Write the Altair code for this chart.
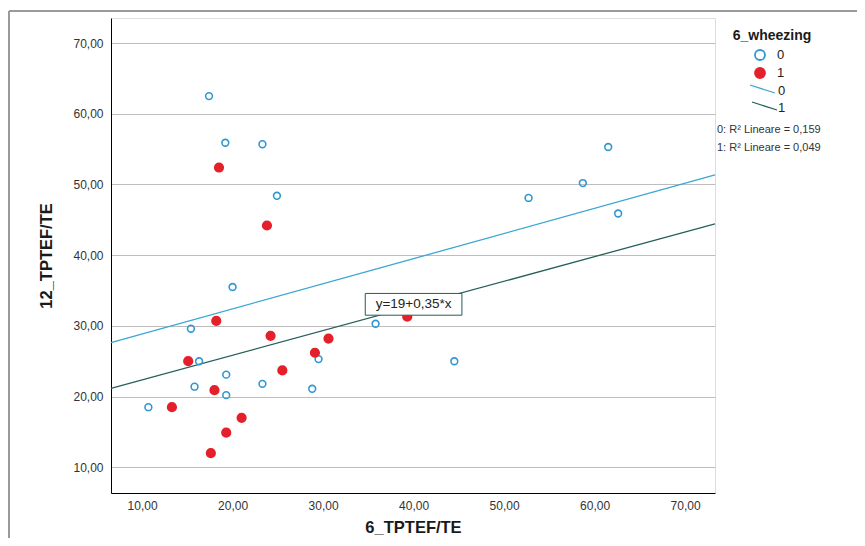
import altair as alt
import pandas as pd

# ---- data ----
groups = ["0", "1"]
x_g0 = [17.4, 19.2, 23.3, 24.9, 20.0, 15.4, 29.5, 16.3, 19.3, 15.8, 23.3, 28.8, 19.3, 10.7, 35.8, 58.7, 52.7, 62.6, 61.5, 44.5]
y_g0 = [62.5, 55.9, 55.7, 48.4, 35.5, 29.6, 25.3, 25.0, 23.1, 21.4, 21.8, 21.1, 20.2, 18.5, 30.3, 50.2, 48.1, 45.9, 55.3, 25.0]
x_g1 = [18.5, 23.8, 18.2, 24.2, 30.6, 29.1, 15.1, 25.5, 18.0, 13.3, 21.0, 19.3, 17.6, 39.3]
y_g1 = [52.4, 44.2, 30.7, 28.6, 28.2, 26.2, 25.0, 23.7, 20.9, 18.5, 17.0, 14.9, 12.0, 31.3]
legend_title = "6_wheezing"
r2_text = ["0: R\u00b2 Lineare = 0,159", "1: R\u00b2 Lineare = 0,049"]
eq_text = ["y=19+0,35*x"]
eq_x = [40.0]
eq_y = [33.05]
eq_box_x = [34.66]
eq_box_x2 = [45.34]
eq_box_y = [31.51]
eq_box_y2 = [34.59]
tick_vals = [10, 20, 30, 40, 50, 60, 70]
x_domain = [6.57, 73.3]
y_domain = [6.36, 73.55]

df = pd.DataFrame({
    "x": x_g0 + x_g1,
    "y": y_g0 + y_g1,
    "g": ["0"] * len(x_g0) + ["1"] * len(x_g1),
})
eq_df = pd.DataFrame({"t": eq_text, "x": eq_x, "y": eq_y, "bx": eq_box_x,
                      "bx2": eq_box_x2, "by": eq_box_y, "by2": eq_box_y2})
r2_df = pd.DataFrame({"t": r2_text, "i": [0, 1]})
leg_df = pd.DataFrame({"g": groups, "i": [0, 1]})
title_df = pd.DataFrame({"t": [legend_title]})

BLUE = "#2f98d2"
RED = "#e4202a"
LBLUE = "#3ba6d2"
DGREEN = "#25605a"
FONT = "Liberation Sans"

fmt = "replace(format(datum.value, '.2f'), '.', ',')"
xs = alt.Scale(domain=x_domain, nice=False, zero=False)
ys = alt.Scale(domain=y_domain, nice=False, zero=False)
stroke_scale = alt.Scale(domain=groups, range=[BLUE, RED])
fill_scale = alt.Scale(domain=groups, range=["transparent", RED])
line_scale = alt.Scale(domain=groups, range=[LBLUE, DGREEN])

x_axis = alt.Axis(values=tick_vals, labelExpr=fmt, grid=False, ticks=False,
                  title="6_TPTEF/TE", labelFontSize=12, labelColor="#333333",
                  labelPadding=7, titleFontSize=16.5, titleFontWeight="bold",
                  titleColor="#1a1a1a", titlePadding=8, domainColor="#000000",
                  labelFont=FONT, titleFont=FONT)
y_axis = alt.Axis(values=tick_vals, labelExpr=fmt, grid=True, ticks=False,
                  title="12_TPTEF/TE", labelFontSize=12, labelColor="#333333",
                  labelPadding=8, titleFontSize=16.5, titleFontWeight="bold",
                  titleColor="#1a1a1a", titlePadding=18, domainColor="#000000",
                  gridColor="#bdbdbd", labelFont=FONT, titleFont=FONT)

base = alt.Chart(df)

points = base.mark_point(strokeWidth=1.6, opacity=1).encode(
    x=alt.X("x:Q", scale=xs, axis=x_axis),
    y=alt.Y("y:Q", scale=ys, axis=y_axis),
    stroke=alt.Stroke("g:N", scale=stroke_scale, legend=None),
    fill=alt.Fill("g:N", scale=fill_scale, legend=None),
    size=alt.Size("g:O", scale=alt.Scale(domain=groups, range=[46, 74]), legend=None),
)

lines = base.transform_regression(
    "x", "y", groupby=["g"], extent=x_domain
).mark_line(strokeWidth=1.3).encode(
    x="x:Q",
    y="y:Q",
    color=alt.Color("g:N", scale=line_scale, legend=None),
)

# legend: title, point symbols, line symbols
leg_title = alt.Chart(title_df).mark_text(font=FONT, fontSize=14, fontWeight="bold",
                                          color="#1a1a1a").encode(
    x=alt.value(661), y=alt.value(18), text="t:N")
leg_pts = alt.Chart(leg_df).mark_point(strokeWidth=1.8, opacity=1, size=100).encode(
    x=alt.value(649), y=alt.YValue(alt.ExprRef("37 + datum.i * 18")),
    stroke=alt.Stroke("g:N", scale=stroke_scale, legend=None),
    fill=alt.Fill("g:N", scale=fill_scale, legend=None))
leg_lbl = alt.Chart(leg_df).mark_text(font=FONT, fontSize=13, color="#222222", align="left").encode(
    x=alt.value(666), y=alt.YValue(alt.ExprRef("37 + datum.i * 18")), text="g:N")
leg_lines = alt.Chart(leg_df).mark_rule(strokeWidth=1.3).encode(
    x=alt.XValue(alt.ExprRef("639 + datum.i * 2")),
    x2=alt.X2Value(alt.ExprRef("664 + datum.i * 2")),
    y=alt.YValue(alt.ExprRef("67 + datum.i * 17")),
    y2=alt.Y2Value(alt.ExprRef("75 + datum.i * 17")),
    color=alt.Color("g:N", scale=line_scale, legend=None))
leg_lbl2 = alt.Chart(leg_df).mark_text(font=FONT, fontSize=13, color="#222222", align="left").encode(
    x=alt.value(667), y=alt.YValue(alt.ExprRef("73 + datum.i * 17")), text="g:N")

eq_box = alt.Chart(eq_df).mark_rect(fill="white", stroke="#2a5a55", strokeWidth=1).encode(
    x=alt.X("bx:Q", scale=xs), x2="bx2:Q", y=alt.Y("by:Q", scale=ys), y2="by2:Q")
eq_label = alt.Chart(eq_df).mark_text(font=FONT, fontSize=13.5, color="#222222").encode(
    x=alt.X("x:Q", scale=xs), y=alt.Y("y:Q", scale=ys), text="t:N")

r2 = alt.Chart(r2_df).mark_text(font=FONT, fontSize=11, color="#333333", align="left").encode(
    x=alt.value(606), y=alt.YValue(alt.ExprRef("112 + datum.i * 18")), text="t:N")

frame_top = alt.Chart(df).mark_rule(color="#9a9a9a", strokeWidth=1.2).encode(
    x=alt.value(-102), x2=alt.value(746), y=alt.value(-7))
frame_left = alt.Chart(df).mark_rule(color="#9a9a9a", strokeWidth=1.2).encode(
    x=alt.value(-102), y=alt.value(-7), y2=alt.value(520))

chart = alt.layer(frame_top, frame_left, lines, points, eq_box, eq_label, r2,
                  leg_title, leg_pts, leg_lbl, leg_lines, leg_lbl2).properties(
    width=604, height=475,
    autosize=alt.AutoSizeParams(type="none"),
    padding={"left": 103, "top": 10, "right": 142, "bottom": 45},
).configure_view(stroke=None).configure(background="white")

chart.save("out.html", embed_options={"renderer": "svg", "actions": False})
